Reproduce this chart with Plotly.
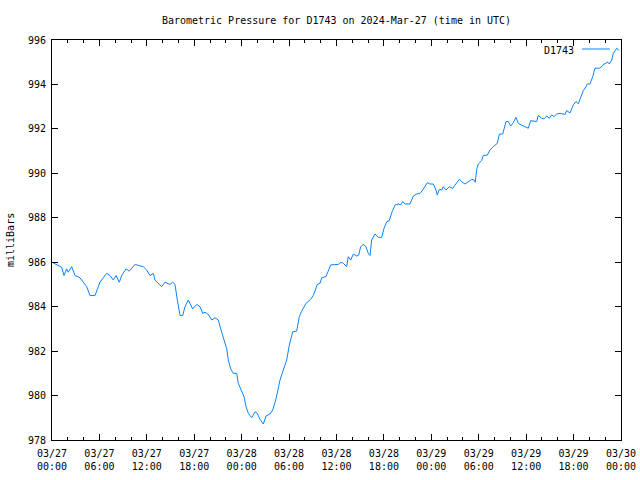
import datetime as dt
import plotly.graph_objects as go

# hours since 2024-03-27 00:00 UTC
hours = [0.0, 1.23, 1.52, 1.86, 2.06, 2.49, 2.91, 3.54, 4.18, 4.39, 4.81, 5.44, 5.86, 6.07, 6.49, 6.92,
         7.34, 7.76, 8.10, 8.52, 8.82, 9.36, 9.78, 10.50, 11.55, 11.98, 12.40, 12.82, 13.03, 13.88, 14.30,
         14.93, 15.27, 15.56, 15.86, 16.20, 16.54, 16.83, 17.25, 17.80, 18.31, 18.73, 19.07, 19.36, 19.78,
         20.21, 20.63, 21.04, 21.35, 21.76, 22.11, 22.31, 22.61, 22.94, 23.37, 23.57, 24.00, 24.30, 24.55,
         24.84, 25.27, 25.69, 25.98, 26.32, 26.74, 27.08, 27.59, 27.93, 28.34, 28.85, 29.27, 29.70, 30.03,
         30.46, 30.96, 31.29, 31.60, 32.14, 32.73, 33.06, 33.57, 33.91, 34.13, 34.67, 35.27, 36.23, 36.57,
         36.86, 37.29, 37.49, 37.80, 38.13, 38.56, 38.81, 39.06, 39.39, 39.73, 40.02, 40.24, 40.45, 40.87,
         41.29, 41.72, 42.01, 42.35, 42.68, 42.99, 43.40, 43.82, 44.13, 44.38, 44.67, 45.30, 45.72, 46.15,
         46.57, 46.91, 47.20, 47.49, 47.83, 48.25, 48.59, 48.75, 49.01, 49.31, 49.51, 49.86, 50.27, 50.70,
         50.99, 51.54, 51.84, 52.26, 52.68, 53.11, 53.40, 53.56, 53.74, 53.94, 54.37, 54.58, 55.08, 55.42,
         55.84, 56.35, 56.60, 57.03, 57.45, 57.74, 58.04, 58.37, 58.71, 59.00, 59.43, 59.85, 60.27, 60.57,
         61.33, 61.53, 61.96, 62.26, 62.60, 62.93, 63.23, 63.52, 63.87, 64.28, 64.92, 65.13, 65.55, 65.97,
         66.31, 66.60, 66.90, 67.23, 67.57, 67.74, 68.08, 68.42, 68.71, 69.26, 69.56, 69.85, 70.10, 70.27,
         70.52, 70.83, 71.03, 71.46, 71.79]

pressure = [986.0, 985.77, 985.4, 985.7, 985.55, 985.8, 985.4, 985.3, 985.0, 984.9, 984.5, 984.5, 984.9,
            985.1, 985.3, 985.5, 985.4, 985.2, 985.4, 985.1, 985.4, 985.7, 985.6, 985.9, 985.8, 985.65,
            985.4, 985.5, 985.2, 984.9, 985.1, 985.0, 985.1, 985.0, 984.3, 983.6, 983.6, 984.0, 984.3,
            983.9, 984.1, 984.0, 983.7, 983.75, 983.65, 983.4, 983.5, 983.4, 983.0, 982.5, 982.1, 981.6,
            981.2, 981.0, 981.0, 980.55, 980.2, 979.95, 979.5, 979.2, 979.0, 979.27, 979.2, 978.93, 978.72,
            979.08, 979.17, 979.35, 979.83, 980.7, 981.15, 981.6, 982.27, 982.87, 982.9, 983.55, 983.8,
            984.15, 984.33, 984.5, 985.0, 985.05, 985.3, 985.35, 985.88, 985.9, 986.0, 985.95, 985.8,
            986.25, 986.1, 986.37, 986.28, 986.32, 986.7, 986.8, 986.7, 986.4, 986.3, 987.0, 987.27,
            987.12, 987.12, 987.52, 987.82, 987.87, 988.23, 988.57, 988.62, 988.58, 988.73, 988.62, 988.62,
            988.98, 989.07, 989.1, 989.25, 989.4, 989.58, 989.52, 989.52, 989.25, 989.02, 989.28, 989.25,
            989.4, 989.25, 989.4, 989.32, 989.47, 989.73, 989.62, 989.52, 989.62, 989.73, 989.7, 989.6,
            990.18, 990.42, 990.57, 990.81, 990.82, 991.05, 991.2, 991.35, 991.76, 991.77, 992.33, 992.33,
            992.13, 992.28, 992.52, 992.25, 992.17, 992.1, 992.03, 992.37, 992.33, 992.6, 992.48, 992.45,
            992.58, 992.48, 992.63, 992.55, 992.67, 992.7, 992.65, 992.82, 992.72, 993.08, 993.23, 993.13,
            993.45, 993.72, 993.9, 994.02, 994.02, 994.35, 994.73, 994.73, 994.8, 994.92, 994.95, 995.02,
            994.92, 995.1, 995.4, 995.63, 995.52]

tick_dates = ["2024-03-27 00:00", "2024-03-27 06:00", "2024-03-27 12:00", "2024-03-27 18:00",
              "2024-03-28 00:00", "2024-03-28 06:00", "2024-03-28 12:00", "2024-03-28 18:00",
              "2024-03-29 00:00", "2024-03-29 06:00", "2024-03-29 12:00", "2024-03-29 18:00",
              "2024-03-30 00:00"]
tick_labels = ["03/27<br>00:00", "03/27<br>06:00", "03/27<br>12:00", "03/27<br>18:00",
               "03/28<br>00:00", "03/28<br>06:00", "03/28<br>12:00", "03/28<br>18:00",
               "03/29<br>00:00", "03/29<br>06:00", "03/29<br>12:00", "03/29<br>18:00",
               "03/30<br>00:00"]
y_ticks = [978, 980, 982, 984, 986, 988, 990, 992, 994, 996]

start = dt.datetime(2024, 3, 27, 0, 0)
times = [start + dt.timedelta(hours=h) for h in hours]

FONT = "DejaVu Sans Mono"
LINE_COLOR = "#0a84ff"

fig = go.Figure()
fig.add_trace(go.Scatter(x=times, y=pressure, mode="lines", name="D1743",
                         line=dict(color=LINE_COLOR, width=1), showlegend=False))

fig.update_layout(
    width=640, height=480,
    margin=dict(l=52, r=19, t=40, b=40),
    paper_bgcolor="white", plot_bgcolor="white",
    font=dict(family=FONT, size=10, color="black"),
    title=dict(text="Barometric Pressure for D1743 on 2024-Mar-27 (time in UTC)",
               x=0.5, xref="paper", xanchor="center",
               y=1 - 20 / 480, yref="container", yanchor="middle",
               font=dict(family=FONT, size=10, color="black")),
    xaxis=dict(
        range=[start, start + dt.timedelta(hours=72)],
        tickvals=tick_dates, ticktext=tick_labels,
        ticks="inside", ticklen=6, tickcolor="black", tickwidth=1,
        minor=dict(ticks="inside", ticklen=3, dtick=2 * 3600 * 1000, tickcolor="black", tickwidth=1,
                   showgrid=False),
        showline=True, linecolor="black", linewidth=1, mirror="allticks",
        showgrid=False, zeroline=False, ticklabelstandoff=4, automargin=False,
        tickfont=dict(family=FONT, size=10),
    ),
    yaxis=dict(
        range=[978, 996], tickvals=y_ticks,
        ticks="inside", ticklen=6, tickcolor="black", tickwidth=1,
        showline=True, linecolor="black", linewidth=1, mirror="allticks",
        showgrid=False, zeroline=False, ticklabelstandoff=3, automargin=False,
        tickfont=dict(family=FONT, size=10),
    ),
    showlegend=False,
)

fig.add_annotation(text="milliBars", textangle=-90, xref="paper", yref="paper",
                   x=(10 - 52) / 569, y=0.5, xanchor="center", yanchor="middle",
                   showarrow=False, font=dict(family=FONT, size=10))
fig.add_annotation(text="D1743", xref="paper", yref="paper",
                   x=(576 - 52) / 569, y=(440 - 50) / 400, xanchor="right", yanchor="middle",
                   showarrow=False, font=dict(family=FONT, size=10))
fig.add_shape(type="line", xref="paper", yref="paper",
              x0=(582 - 52) / 569, x1=(610 - 52) / 569,
              y0=(440 - 49) / 400, y1=(440 - 49) / 400,
              line=dict(color=LINE_COLOR, width=1))

fig.write_html("out.html")
